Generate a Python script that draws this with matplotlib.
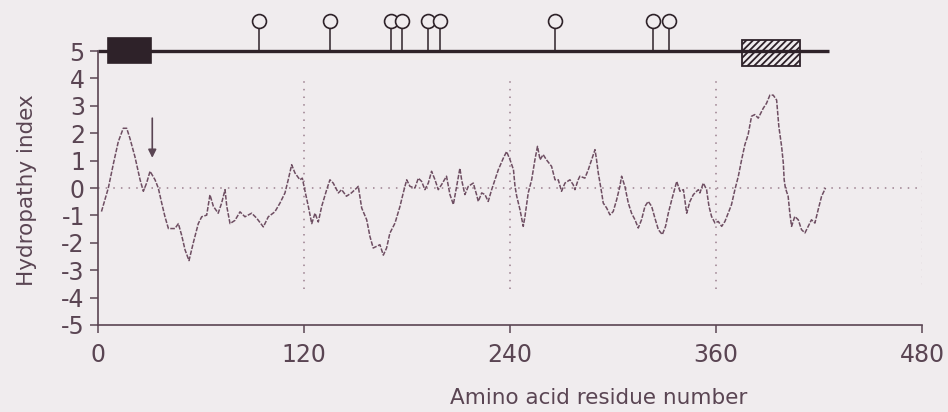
import matplotlib.pyplot as plt
import matplotlib.patches as mpatches

plt.rcParams["font.family"] = ["DejaVu Sans"]
plt.rcParams["hatch.linewidth"] = 1.3

# hydropathy profile
residue = [2, 6, 9, 11.8, 14.7, 16.7, 18.6, 21.5, 24.5, 26.4, 28.3, 30.3, 33.2, 35.1, 37.1, 39, 41,
           44.8, 46.8, 48.7, 50.7, 53, 55.5, 58.4, 60.4, 63.3, 65.2, 67.2, 70, 72, 74, 75, 76.9,
           79.8, 82.7, 85.6, 89.5, 92.4, 96.3, 99.2, 103, 106, 108.9, 110.8, 112.8, 114.7, 117.6,
           119, 120.6, 122.5, 124.5, 126.4, 128.3, 130.3, 133.2, 135.1, 137, 140, 141.9, 144.7,
           147.6, 150.7, 151.6, 153.6, 156.5, 158.4, 160.3, 162.3, 164.2, 166.2, 168.1, 170, 173,
           175.9, 177.8, 179.8, 181.7, 184.6, 186.6, 188.5, 190.4, 192.4, 194.3, 196.3, 198.2,
           200.1, 203, 205, 207, 208.9, 210.8, 211.8, 213.7, 215.7, 218.6, 220.5, 221.5, 223.5,
           225.4, 227.3, 229.3, 231.2, 233.2, 236.1, 238, 240, 242, 242.9, 243.9, 245.8, 247.7,
           248.7, 250.6, 252.6, 254.5, 256, 257.5, 259.3, 261.2, 264.2, 266.2, 268.1, 270, 272,
           274.9, 276.8, 277.8, 279.7, 280.7, 283.6, 285.6, 287.5, 289.5, 290.4, 291.4, 293.4,
           294.3, 296.3, 298.2, 300.1, 302.1, 304, 305, 306.9, 308.9, 310.8, 312.8, 314.7, 316.6,
           318.6, 320.5, 322.5, 324.4, 326.4, 328.7, 330.6, 332.2, 334.2, 336.1, 337.1, 339, 341,
           342.9, 344.8, 346.8, 349.7, 350.6, 352.6, 354.5, 355.9, 357.4, 359.4, 361.3, 363.3,
           365.2, 367.1, 369, 371, 373, 374.9, 376.8, 378.7, 380.7, 382.6, 384.6, 387.5, 389.4,
           391.4, 393.3, 395.3, 396.6, 398.2, 399.2, 399.7, 400.4, 402, 403, 404, 405.9, 407.9,
           409.8, 411.8, 413.7, 415.6, 417.6, 419.5, 421.5, 423.8]
hydropathy = [-0.86, 0.0, 0.9, 1.69, 2.18, 2.18, 1.81, 1.14, 0.3, -0.12, 0.18, 0.61, 0.3, 0.0, -0.55,
              -1.05, -1.48, -1.48, -1.3, -1.72, -2.26, -2.65, -2.0, -1.3, -1.05, -0.99, -0.25,
              -0.67, -0.92, -0.55, -0.06, -0.67, -1.3, -1.18, -0.87, -1.05, -0.92, -1.1, -1.42,
              -1.05, -0.87, -0.55, -0.18, 0.3, 0.85, 0.55, 0.3, 0.36, -0.12, -0.67, -1.3, -0.92,
              -1.24, -0.67, -0.06, 0.3, 0.18, -0.18, -0.06, -0.3, -0.18, 0.0, 0.06, -0.73, -1.16,
              -1.77, -2.19, -2.13, -2.07, -2.45, -2.19, -1.65, -1.28, -0.67, -0.18, 0.3, 0.06, 0.0,
              0.36, 0.24, -0.06, 0.18, 0.61, 0.3, -0.06, 0.12, 0.43, -0.24, -0.6, 0.06, 0.72, 0.3,
              -0.24, 0.06, 0.18, -0.24, -0.49, -0.18, -0.24, -0.49, -0.06, 0.3, 0.67, 1.09, 1.33,
              1.03, 0.67, 0.06, -0.3, -0.79, -1.4, -1.04, -0.18, 0.3, 1.03, 1.52, 1.03, 1.22, 1.03,
              0.79, 0.3, 0.3, -0.12, 0.18, 0.3, 0.12, -0.06, 0.3, 0.43, 0.36, 0.67, 1.03, 1.4, 1.03,
              0.55, -0.18, -0.55, -0.73, -0.98, -0.86, -0.43, 0.06, 0.43, 0.06, -0.55, -0.92, -1.16,
              -1.46, -1.16, -0.67, -0.49, -0.67, -1.1, -1.52, -1.7, -1.4, -0.92, -0.43, 0.0, 0.24,
              -0.12, -0.06, -0.92, -0.49, -0.24, -0.06, -0.18, 0.18, -0.06, -0.67, -1.04, -1.28,
              -1.22, -1.4, -1.22, -0.92, -0.61, -0.06, 0.43, 1.03, 1.58, 1.95, 2.62, 2.68, 2.55,
              2.91, 3.09, 3.39, 3.39, 3.21, 2.24, 1.52, 0.91, 0.3, 0.0, -0.3, -0.92, -1.4, -1.04,
              -1.16, -1.52, -1.64, -1.4, -1.16, -1.28, -0.79, -0.3, 0.0]

# protein schematic: glycosylation sites and domains
glyco_sites = [94, 135, 170.5, 177, 192, 199, 266, 323, 332.5]
signal_box = [6, 31]
tm_box = [375, 409]
chain_end = 426
arrow_pos = 31.6

ink = "#5a4553"
dark = "#2e2229"
bg = "#f0ecee"

fig = plt.figure(figsize=(9.48, 4.12), dpi=100, facecolor=bg)
ax = fig.add_axes([0.1034, 0.2112, 0.8692, 0.7614], facecolor=bg)

# reference lines
ax.axhline(0, xmin=0, xmax=1, color="#9b7f8e", lw=1.1, ls=(0, (1, 4)))
for xv in [120, 240, 360]:
    ax.plot([xv, xv], [-3.7, 4], color="#9b7f8e", lw=1.1, ls=(0, (1, 4)))
ax.plot([480, 480], [-3.5, 1.5], color="#cdbcc4", lw=1, ls=(0, (1, 4)))

# profile
ax.plot(residue, hydropathy, color="#6e4e62", lw=1.1, ls=(0, (3, 1)))

# arrow
ax.annotate("", xy=(arrow_pos, 1.0), xytext=(arrow_pos, 2.65),
            arrowprops=dict(arrowstyle="-|>", color=ink, lw=1.2, mutation_scale=12))

# schematic
ax.plot([0, chain_end], [5, 5], color=dark, lw=2.4, clip_on=False, solid_capstyle="butt")
ax.add_patch(mpatches.Rectangle((signal_box[0], 4.55), signal_box[1] - signal_box[0], 0.92,
                                facecolor=dark, edgecolor=dark, lw=1.2, clip_on=False))
ax.add_patch(mpatches.Rectangle((tm_box[0], 4.45), tm_box[1] - tm_box[0], 0.95,
                                facecolor=bg, edgecolor=dark, lw=1.3, hatch="/////",
                                clip_on=False))
for s in glyco_sites:
    ax.plot([s, s], [5, 5.85], color=dark, lw=1.1, clip_on=False)
    ax.plot(s, 6.1, "o", ms=10, mfc=bg, mec=dark, mew=1.2, clip_on=False)

ax.set_xlim(0, 480)
ax.set_ylim(-5, 6.45)
ax.spines["top"].set_visible(False)
ax.spines["right"].set_visible(False)
ax.spines["left"].set_bounds(-5, 5)
ax.spines["bottom"].set_bounds(0, 480)
for sp in ["left", "bottom"]:
    ax.spines[sp].set_color(ink)
    ax.spines[sp].set_linewidth(1.2)

ax.set_xticks([0, 120, 240, 360, 480])
ax.set_yticks(range(-5, 6))
ax.set_yticklabels([str(v) for v in range(-5, 6)])
ax.tick_params(axis="both", colors=ink, labelcolor=ink, labelsize=17, length=6, width=1.1)
ax.tick_params(axis="x", pad=7)

fig.text(0.631, 0.035, "Amino acid residue number", ha="center", va="center",
         fontsize=15.5, color=ink)
fig.text(0.028, 0.539, "Hydropathy index", ha="center", va="center", rotation=90,
         fontsize=15.5, color=ink)

fig.savefig("out.png", dpi=100, facecolor=bg)
